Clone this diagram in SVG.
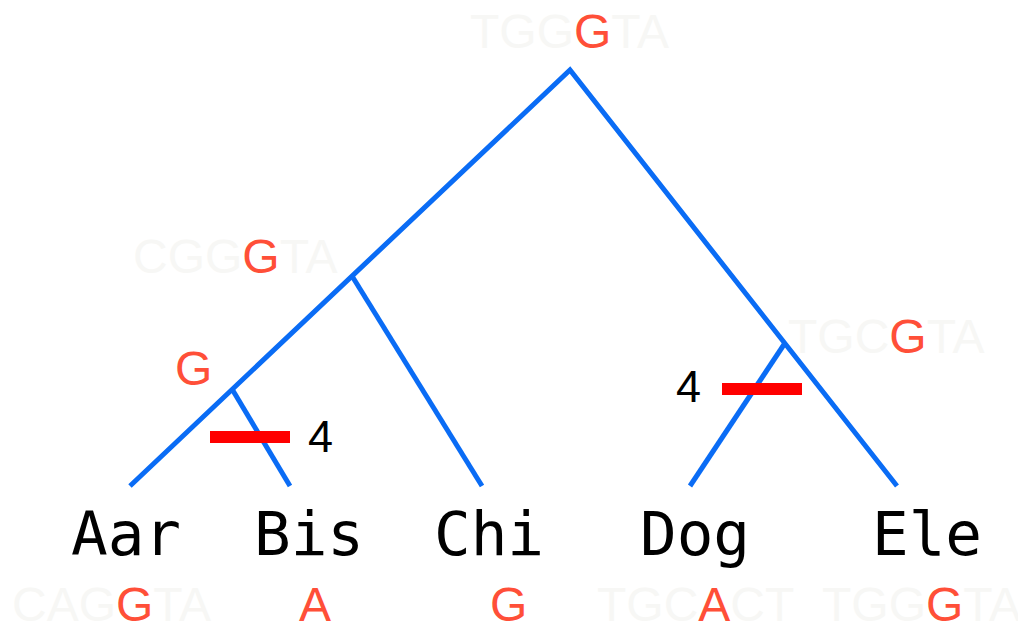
<svg xmlns="http://www.w3.org/2000/svg" width="1018" height="627" viewBox="0 0 1018 627">
<style>
.br{stroke:#0a6cf5;stroke-width:5;fill:none;stroke-linecap:butt}
.bar{fill:#ff0000}
.seq{font-family:"Liberation Sans",Arial,sans-serif;font-size:48px;fill:#f7f7f5}
.hi{fill:#ff4f38}
.leaf{font-family:"DejaVu Sans Mono",monospace;font-size:61px;fill:#000;text-anchor:middle}
.num{font-family:"Liberation Sans",Arial,sans-serif;font-size:45px;fill:#000}
</style>
<rect width="1018" height="627" fill="#ffffff"/>
<g id="connectors">
<polyline class="br" points="130,486 570,70 897,486"/>
<line class="br" x1="352" y1="276" x2="482" y2="486"/>
<line class="br" x1="232" y1="389" x2="290" y2="486"/>
<line class="br" x1="785" y1="343" x2="690" y2="486"/>
</g>
<g id="mut-bis"><rect class="bar" x="210" y="431" width="80" height="12"/><text class="num" x="308" y="452">4</text></g>
<g id="mut-dog"><rect class="bar" x="722" y="383" width="80" height="12"/><text class="num" x="676" y="402">4</text></g>
<g id="root"><text class="seq" x="470" y="48">TGG<tspan class="hi">G</tspan>TA</text></g>
<g id="node-abc"><text class="seq" x="133" y="273">CGG<tspan class="hi">G</tspan>TA</text></g>
<g id="node-ab"><text class="seq hi" x="175" y="385">G</text></g>
<g id="node-de"><text class="seq" x="788" y="353">TGC<tspan class="hi">G</tspan>TA</text></g>
<g id="leaf-aar"><text class="leaf" x="126" y="555">Aar</text><text class="seq" x="12" y="621">CAG<tspan class="hi">G</tspan>TA</text></g>
<g id="leaf-bis"><text class="leaf" x="309" y="555">Bis</text><text class="seq hi" x="299" y="621">A</text></g>
<g id="leaf-chi"><text class="leaf" x="489" y="555">Chi</text><text class="seq hi" x="490" y="621">G</text></g>
<g id="leaf-dog"><text class="leaf" x="695" y="555">Dog</text><text class="seq" x="597" y="621">TGC<tspan class="hi">A</tspan>CT</text></g>
<g id="leaf-ele"><text class="leaf" x="927" y="555">Ele</text><text class="seq" x="822" y="621">TGG<tspan class="hi">G</tspan>TA</text></g>
</svg>
